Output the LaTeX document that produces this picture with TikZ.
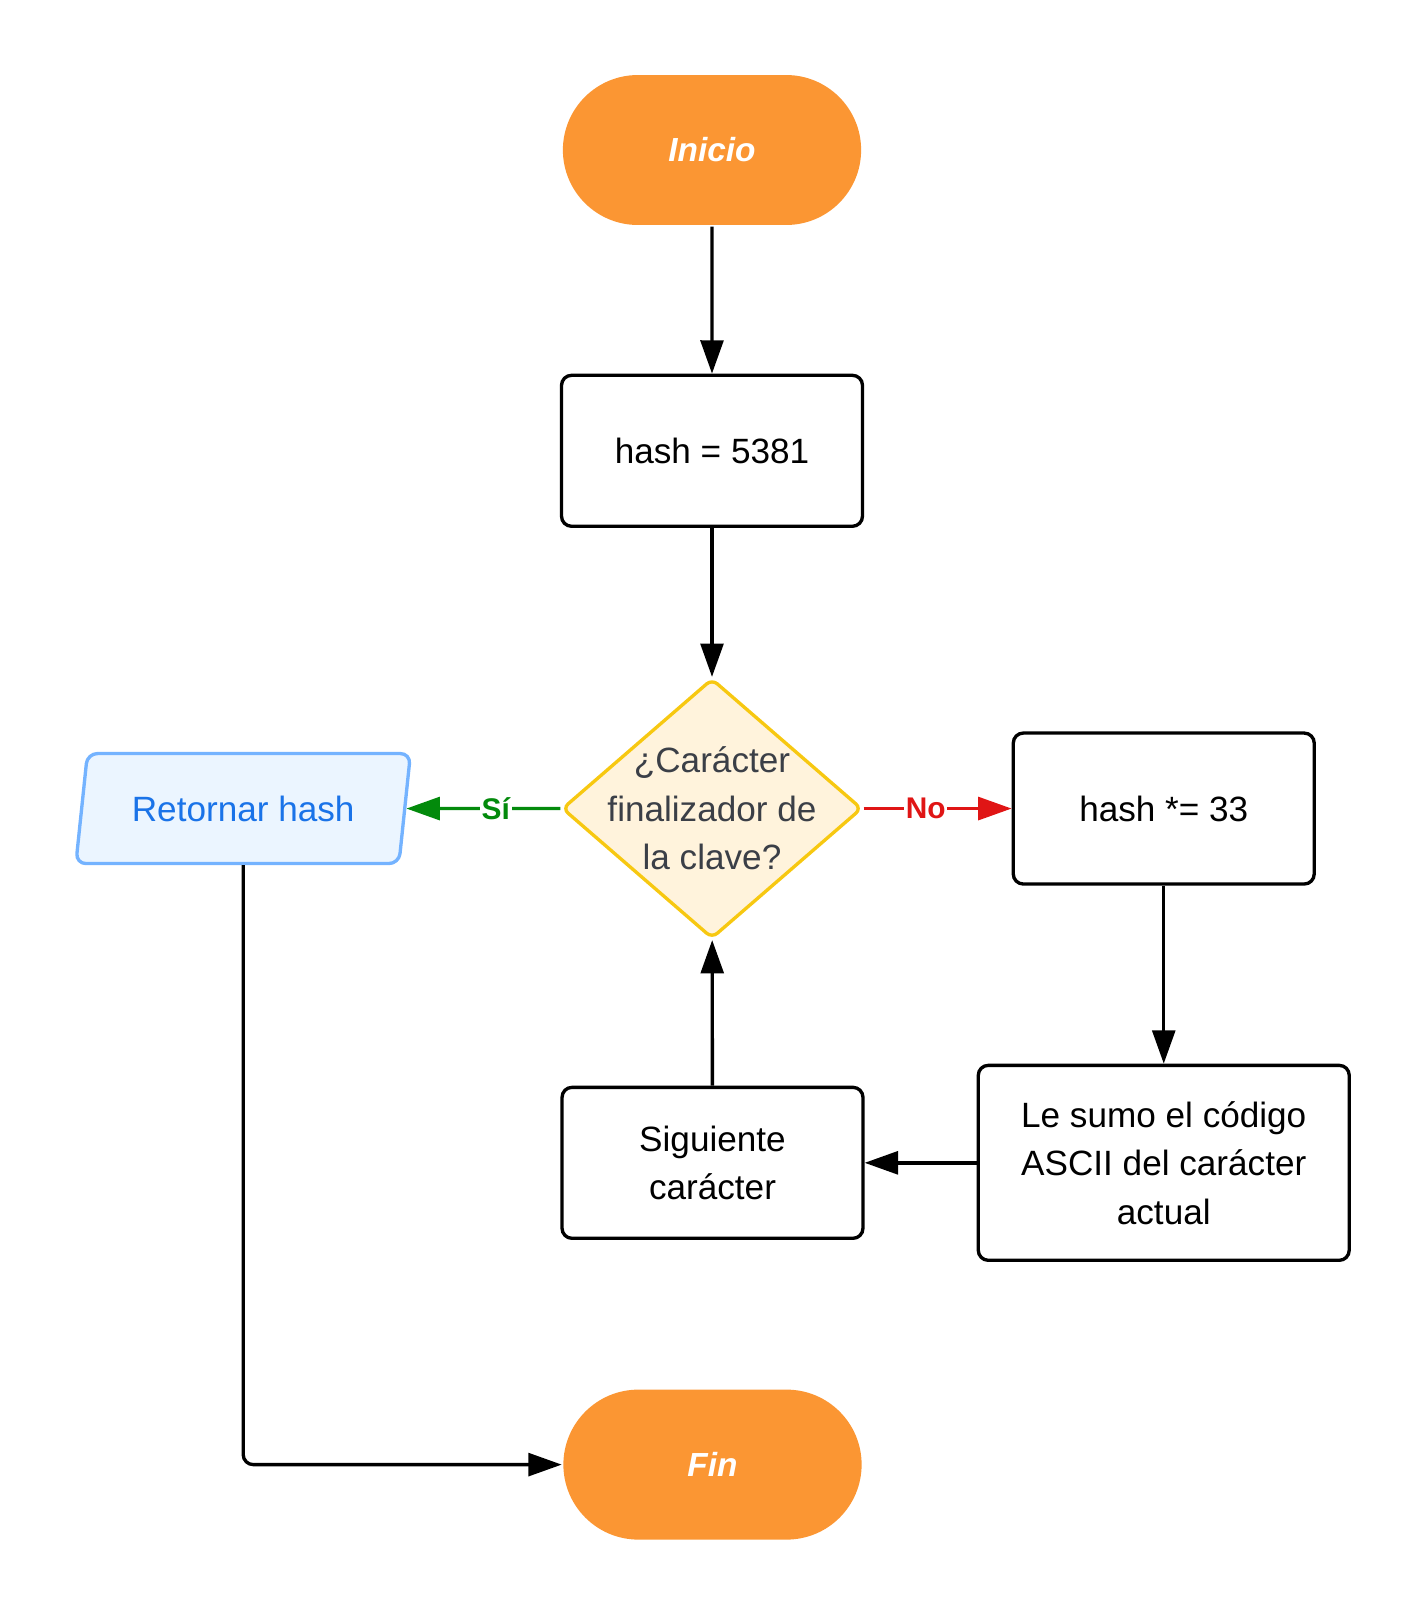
\documentclass[tikz,border=0pt]{standalone}
\usepackage{fontspec}
\setmainfont{Liberation Sans}
\usepackage{xcolor}
\usepackage{tikz}
\usetikzlibrary{shapes.geometric,shapes.misc,arrows.meta,positioning}

\definecolor{startorange}{HTML}{FB9633}
\definecolor{decfill}{HTML}{FFF3DC}
\definecolor{decborder}{HTML}{F7C811}
\definecolor{dectext}{HTML}{3B3F47}
\definecolor{iofill}{HTML}{EBF5FF}
\definecolor{ioborder}{HTML}{74B3FF}
\definecolor{iotext}{HTML}{1A73E8}
\definecolor{yesgreen}{HTML}{038A0C}
\definecolor{nored}{HTML}{E01515}

\tikzset{
  terminal/.style={rounded rectangle, fill=startorange, text=white, font=\fontsize{19}{27.3}\selectfont\bfseries\itshape, minimum width=6.2cm, minimum height=3cm},
  process/.style={draw, rectangle, rounded corners=0.2cm, line width=1.9pt, minimum width=6.02cm, minimum height=3.02cm, align=center},
  decision/.style={diamond, draw=decborder, fill=decfill, rounded corners=0.14cm, minimum width=6cm, minimum height=5.2cm},
  io/.style={trapezium, trapezium left angle=77, trapezium right angle=103, trapezium stretches=true, draw=ioborder, fill=iofill, text=iotext, rounded corners=0.2cm, minimum width=6.7cm, minimum height=2.2cm},
  branch/.style={font=\fontsize{17}{20}\selectfont\bfseries, fill=white, inner sep=1pt, pos=0.42}
}

\begin{document}
\begin{tikzpicture}[x=0.02cm, y=-0.02cm, node distance=3cm, line width=1.9pt, >={Triangle[length=19pt,width=13pt]}, font=\fontsize{20}{27.6}\selectfont]
  \useasboundingbox (0,0) rectangle (1423,1613);

  \node[terminal] (init) at (712,150) {Inicio};
  \node[process, below=2.94cm of init] (hash) {hash = 5381};
  \node[decision, below=2.98cm of hash, label={[text=dectext, align=center]center:{¿Carácter\\finalizador de\\la clave?}}] (check) {};
  \node[process, right=2.96cm of check] (mult) {hash *= 33};
  \node[process, minimum width=7.42cm, minimum height=3.9cm, below=3.56cm of mult] (sum) {Le sumo el código\\ASCII del carácter\\actual};
  \node[process, left=2.24cm of sum] (next) {Siguiente\\carácter};
  \node[io, left=3.08cm of check] (ret) {Retornar hash};
  \node[terminal, below=2.96cm of next] (fin) {Fin};

  \draw[->] (init) -- (hash);
  \draw[->] (hash) -- (check);
  \draw[->, nored] (check) -- node[branch, text=nored] {No} (mult);
  \draw[->, yesgreen] (check) -- node[branch, text=yesgreen] {Sí} (ret);
  \draw[->] (mult) -- (sum);
  \draw[->] (sum) -- (next);
  \draw[->] (next) -- (check);
  \draw[->, rounded corners=0.2cm] (ret) |- (fin);
\end{tikzpicture}
\end{document}
